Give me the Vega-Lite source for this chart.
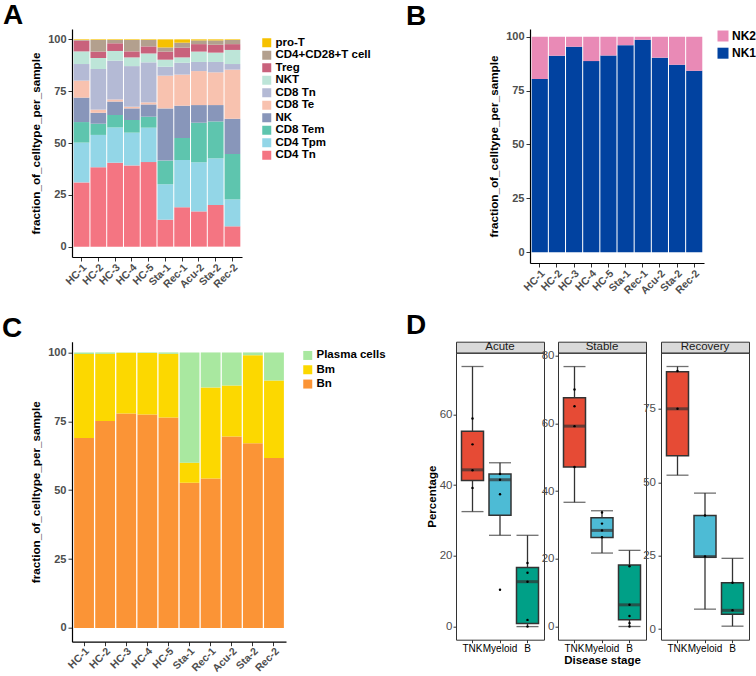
{
  "$schema": "https://vega.github.io/schema/vega-lite/v6.json",
  "background": "white",
  "padding": {"left": 2, "top": 1, "right": 0, "bottom": 0},
  "config": {
    "font": "Liberation Sans",
    "view": {"stroke": null},
    "axis": {"grid": false, "labelFont": "Liberation Sans", "titleFont": "Liberation Sans"},
    "legend": {"labelFont": "Liberation Sans"},
    "title": {"font": "Liberation Sans", "fontSize": 28, "fontWeight": "bold", "color": "black", "anchor": "start", "frame": "group"}
  },
  "datasets": {
    "tcell": [
      {"sample":"HC-1","celltype":"CD4 Tn","pct":31.0},{"sample":"HC-1","celltype":"CD4 Tpm","pct":19.2},{"sample":"HC-1","celltype":"CD8 Tem","pct":9.9},{"sample":"HC-1","celltype":"NK","pct":11.8},{"sample":"HC-1","celltype":"CD8 Te","pct":8.2},{"sample":"HC-1","celltype":"CD8 Tn","pct":8.0},{"sample":"HC-1","celltype":"NKT","pct":6.1},{"sample":"HC-1","celltype":"Treg","pct":5.2},{"sample":"HC-1","celltype":"CD4+CD28+T cell","pct":0.3},{"sample":"HC-1","celltype":"pro-T","pct":0.3},
      {"sample":"HC-2","celltype":"CD4 Tn","pct":38.3},{"sample":"HC-2","celltype":"CD4 Tpm","pct":15.6},{"sample":"HC-2","celltype":"CD8 Tem","pct":5.4},{"sample":"HC-2","celltype":"NK","pct":5.3},{"sample":"HC-2","celltype":"CD8 Te","pct":1.5},{"sample":"HC-2","celltype":"CD8 Tn","pct":19.6},{"sample":"HC-2","celltype":"NKT","pct":5.3},{"sample":"HC-2","celltype":"Treg","pct":3.1},{"sample":"HC-2","celltype":"CD4+CD28+T cell","pct":5.6},{"sample":"HC-2","celltype":"pro-T","pct":0.3},
      {"sample":"HC-3","celltype":"CD4 Tn","pct":40.5},{"sample":"HC-3","celltype":"CD4 Tpm","pct":17.0},{"sample":"HC-3","celltype":"CD8 Tem","pct":6.0},{"sample":"HC-3","celltype":"NK","pct":6.5},{"sample":"HC-3","celltype":"CD8 Te","pct":1.0},{"sample":"HC-3","celltype":"CD8 Tn","pct":18.7},{"sample":"HC-3","celltype":"NKT","pct":4.7},{"sample":"HC-3","celltype":"Treg","pct":3.7},{"sample":"HC-3","celltype":"CD4+CD28+T cell","pct":1.6},{"sample":"HC-3","celltype":"pro-T","pct":0.3},
      {"sample":"HC-4","celltype":"CD4 Tn","pct":39.2},{"sample":"HC-4","celltype":"CD4 Tpm","pct":15.8},{"sample":"HC-4","celltype":"CD8 Tem","pct":6.1},{"sample":"HC-4","celltype":"NK","pct":5.6},{"sample":"HC-4","celltype":"CD8 Te","pct":0.8},{"sample":"HC-4","celltype":"CD8 Tn","pct":19.6},{"sample":"HC-4","celltype":"NKT","pct":4.2},{"sample":"HC-4","celltype":"Treg","pct":2.9},{"sample":"HC-4","celltype":"CD4+CD28+T cell","pct":5.5},{"sample":"HC-4","celltype":"pro-T","pct":0.3},
      {"sample":"HC-5","celltype":"CD4 Tn","pct":40.8},{"sample":"HC-5","celltype":"CD4 Tpm","pct":16.6},{"sample":"HC-5","celltype":"CD8 Tem","pct":5.3},{"sample":"HC-5","celltype":"NK","pct":5.9},{"sample":"HC-5","celltype":"CD8 Te","pct":1.0},{"sample":"HC-5","celltype":"CD8 Tn","pct":19.3},{"sample":"HC-5","celltype":"NKT","pct":4.3},{"sample":"HC-5","celltype":"Treg","pct":3.4},{"sample":"HC-5","celltype":"CD4+CD28+T cell","pct":3.1},{"sample":"HC-5","celltype":"pro-T","pct":0.3},
      {"sample":"Sta-1","celltype":"CD4 Tn","pct":13.0},{"sample":"Sta-1","celltype":"CD4 Tpm","pct":17.1},{"sample":"Sta-1","celltype":"CD8 Tem","pct":11.4},{"sample":"Sta-1","celltype":"NK","pct":25.2},{"sample":"Sta-1","celltype":"CD8 Te","pct":15.8},{"sample":"Sta-1","celltype":"CD8 Tn","pct":4.3},{"sample":"Sta-1","celltype":"NKT","pct":3.4},{"sample":"Sta-1","celltype":"Treg","pct":3.9},{"sample":"Sta-1","celltype":"CD4+CD28+T cell","pct":2.0},{"sample":"Sta-1","celltype":"pro-T","pct":3.9},
      {"sample":"Rec-1","celltype":"CD4 Tn","pct":19.0},{"sample":"Rec-1","celltype":"CD4 Tpm","pct":22.8},{"sample":"Rec-1","celltype":"CD8 Tem","pct":10.6},{"sample":"Rec-1","celltype":"NK","pct":15.6},{"sample":"Rec-1","celltype":"CD8 Te","pct":15.0},{"sample":"Rec-1","celltype":"CD8 Tn","pct":5.7},{"sample":"Rec-1","celltype":"NKT","pct":2.6},{"sample":"Rec-1","celltype":"Treg","pct":4.7},{"sample":"Rec-1","celltype":"CD4+CD28+T cell","pct":2.4},{"sample":"Rec-1","celltype":"pro-T","pct":1.6},
      {"sample":"Acu-2","celltype":"CD4 Tn","pct":17.0},{"sample":"Acu-2","celltype":"CD4 Tpm","pct":23.7},{"sample":"Acu-2","celltype":"CD8 Tem","pct":19.1},{"sample":"Acu-2","celltype":"NK","pct":8.5},{"sample":"Acu-2","celltype":"CD8 Te","pct":16.4},{"sample":"Acu-2","celltype":"CD8 Tn","pct":4.4},{"sample":"Acu-2","celltype":"NKT","pct":5.0},{"sample":"Acu-2","celltype":"Treg","pct":3.6},{"sample":"Acu-2","celltype":"CD4+CD28+T cell","pct":1.8},{"sample":"Acu-2","celltype":"pro-T","pct":0.5},
      {"sample":"Sta-2","celltype":"CD4 Tn","pct":20.1},{"sample":"Sta-2","celltype":"CD4 Tpm","pct":22.5},{"sample":"Sta-2","celltype":"CD8 Tem","pct":17.8},{"sample":"Sta-2","celltype":"NK","pct":7.9},{"sample":"Sta-2","celltype":"CD8 Te","pct":15.8},{"sample":"Sta-2","celltype":"CD8 Tn","pct":5.0},{"sample":"Sta-2","celltype":"NKT","pct":4.5},{"sample":"Sta-2","celltype":"Treg","pct":3.8},{"sample":"Sta-2","celltype":"CD4+CD28+T cell","pct":2.1},{"sample":"Sta-2","celltype":"pro-T","pct":0.5},
      {"sample":"Rec-2","celltype":"CD4 Tn","pct":9.8},{"sample":"Rec-2","celltype":"CD4 Tpm","pct":13.0},{"sample":"Rec-2","celltype":"CD8 Tem","pct":21.9},{"sample":"Rec-2","celltype":"NK","pct":17.0},{"sample":"Rec-2","celltype":"CD8 Te","pct":23.7},{"sample":"Rec-2","celltype":"CD8 Tn","pct":2.7},{"sample":"Rec-2","celltype":"NKT","pct":6.8},{"sample":"Rec-2","celltype":"Treg","pct":2.8},{"sample":"Rec-2","celltype":"CD4+CD28+T cell","pct":2.0},{"sample":"Rec-2","celltype":"pro-T","pct":0.3}
    ],
    "nk": [
      {"sample":"HC-1","subtype":"NK1","pct":80.4},{"sample":"HC-1","subtype":"NK2","pct":19.6},
      {"sample":"HC-2","subtype":"NK1","pct":91.2},{"sample":"HC-2","subtype":"NK2","pct":8.8},
      {"sample":"HC-3","subtype":"NK1","pct":95.4},{"sample":"HC-3","subtype":"NK2","pct":4.6},
      {"sample":"HC-4","subtype":"NK1","pct":88.7},{"sample":"HC-4","subtype":"NK2","pct":11.3},
      {"sample":"HC-5","subtype":"NK1","pct":91.3},{"sample":"HC-5","subtype":"NK2","pct":8.7},
      {"sample":"Sta-1","subtype":"NK1","pct":96.1},{"sample":"Sta-1","subtype":"NK2","pct":3.9},
      {"sample":"Rec-1","subtype":"NK1","pct":98.6},{"sample":"Rec-1","subtype":"NK2","pct":1.4},
      {"sample":"Acu-2","subtype":"NK1","pct":90.3},{"sample":"Acu-2","subtype":"NK2","pct":9.7},
      {"sample":"Sta-2","subtype":"NK1","pct":87.0},{"sample":"Sta-2","subtype":"NK2","pct":13.0},
      {"sample":"Rec-2","subtype":"NK1","pct":84.2},{"sample":"Rec-2","subtype":"NK2","pct":15.8}
    ],
    "bcell": [
      {"sample":"HC-1","subtype":"Bn","pct":68.9},{"sample":"HC-1","subtype":"Bm","pct":30.5},{"sample":"HC-1","subtype":"Plasma cells","pct":0.6},
      {"sample":"HC-2","subtype":"Bn","pct":75.1},{"sample":"HC-2","subtype":"Bm","pct":24.4},{"sample":"HC-2","subtype":"Plasma cells","pct":0.5},
      {"sample":"HC-3","subtype":"Bn","pct":77.8},{"sample":"HC-3","subtype":"Bm","pct":22.1},{"sample":"HC-3","subtype":"Plasma cells","pct":0.1},
      {"sample":"HC-4","subtype":"Bn","pct":77.5},{"sample":"HC-4","subtype":"Bm","pct":22.3},{"sample":"HC-4","subtype":"Plasma cells","pct":0.2},
      {"sample":"HC-5","subtype":"Bn","pct":76.4},{"sample":"HC-5","subtype":"Bm","pct":23.1},{"sample":"HC-5","subtype":"Plasma cells","pct":0.5},
      {"sample":"Sta-1","subtype":"Bn","pct":52.7},{"sample":"Sta-1","subtype":"Bm","pct":7.3},{"sample":"Sta-1","subtype":"Plasma cells","pct":40.0},
      {"sample":"Rec-1","subtype":"Bn","pct":54.2},{"sample":"Rec-1","subtype":"Bm","pct":33.1},{"sample":"Rec-1","subtype":"Plasma cells","pct":12.7},
      {"sample":"Acu-2","subtype":"Bn","pct":69.5},{"sample":"Acu-2","subtype":"Bm","pct":18.5},{"sample":"Acu-2","subtype":"Plasma cells","pct":12.0},
      {"sample":"Sta-2","subtype":"Bn","pct":67.0},{"sample":"Sta-2","subtype":"Bm","pct":32.0},{"sample":"Sta-2","subtype":"Plasma cells","pct":1.0},
      {"sample":"Rec-2","subtype":"Bn","pct":61.7},{"sample":"Rec-2","subtype":"Bm","pct":28.1},{"sample":"Rec-2","subtype":"Plasma cells","pct":10.2}
    ],
    "box": [
      {"stage":"Acute","group":"TNK","lo":32.5,"q1":41.3,"med":44.3,"q3":55.2,"hi":73.5},
      {"stage":"Acute","group":"Myeloid","lo":25.8,"q1":31.5,"med":41.5,"q3":43.1,"hi":46.3},
      {"stage":"Acute","group":"B","lo":0.0,"q1":0.9,"med":12.7,"q3":16.7,"hi":25.8},
      {"stage":"Stable","group":"TNK","lo":36.7,"q1":47.1,"med":59.2,"q3":67.6,"hi":76.8},
      {"stage":"Stable","group":"Myeloid","lo":21.7,"q1":26.3,"med":28.4,"q3":32.1,"hi":34.2},
      {"stage":"Stable","group":"B","lo":0.0,"q1":2.0,"med":6.4,"q3":18.2,"hi":22.5},
      {"stage":"Recovery","group":"TNK","lo":52.4,"q1":59.0,"med":75.0,"q3":87.6,"hi":89.4},
      {"stage":"Recovery","group":"Myeloid","lo":6.8,"q1":24.5,"med":24.7,"q3":38.7,"hi":46.3},
      {"stage":"Recovery","group":"B","lo":1.0,"q1":5.1,"med":6.4,"q3":15.8,"hi":24.1}
    ],
    "pts": [
      {"stage":"Acute","group":"TNK","value":58.8},{"stage":"Acute","group":"TNK","value":51.5},{"stage":"Acute","group":"TNK","value":44.2},{"stage":"Acute","group":"TNK","value":39.2},
      {"stage":"Acute","group":"Myeloid","value":43.1},{"stage":"Acute","group":"Myeloid","value":41.5},{"stage":"Acute","group":"Myeloid","value":37.4},{"stage":"Acute","group":"Myeloid","value":10.4},
      {"stage":"Acute","group":"B","value":18.0},{"stage":"Acute","group":"B","value":15.2},{"stage":"Acute","group":"B","value":12.7},{"stage":"Acute","group":"B","value":1.9},{"stage":"Acute","group":"B","value":0.0},
      {"stage":"Stable","group":"TNK","value":70.0},{"stage":"Stable","group":"TNK","value":65.1},{"stage":"Stable","group":"TNK","value":59.2},{"stage":"Stable","group":"TNK","value":47.1},
      {"stage":"Stable","group":"Myeloid","value":33.7},{"stage":"Stable","group":"Myeloid","value":30.4},{"stage":"Stable","group":"Myeloid","value":28.4},{"stage":"Stable","group":"Myeloid","value":26.4},
      {"stage":"Stable","group":"B","value":17.8},{"stage":"Stable","group":"B","value":6.4},{"stage":"Stable","group":"B","value":3.1},{"stage":"Stable","group":"B","value":1.0},{"stage":"Stable","group":"B","value":0.0},
      {"stage":"Recovery","group":"TNK","value":87.9},{"stage":"Recovery","group":"TNK","value":75.0},
      {"stage":"Recovery","group":"Myeloid","value":38.7},{"stage":"Recovery","group":"Myeloid","value":24.7},
      {"stage":"Recovery","group":"B","value":15.8},{"stage":"Recovery","group":"B","value":6.4}
    ]
  },
  "columns": 2,
  "align": {"row": "each", "column": "none"},
  "spacing": {"row": 14.7, "column": 12},
  "resolve": {"scale": {"color": "independent", "x": "independent", "y": "independent"}, "legend": {"color": "independent"}},
  "concat": [
    {
      "title": {"text": "A", "dx": -69, "offset": -0.7},
      "width": 170, "height": 228,
      "data": {"name": "tcell"},
      "transform": [{"window": [{"op": "row_number", "as": "stack_idx"}], "groupby": ["sample"]}],
      "mark": {"type": "bar"},
      "encoding": {
        "x": {"field": "sample", "type": "nominal", "sort": ["HC-1","HC-2","HC-3","HC-4","HC-5","Sta-1","Rec-1","Acu-2","Sta-2","Rec-2"], "scale": {"paddingInner": 0.06, "paddingOuter": 0.1},
          "axis": {"title": null, "labelAngle": -45, "labelAlign": "right", "labelBaseline": "top", "labelFontSize": 10.5, "labelFontWeight": "bold", "labelColor": "#4D4D4D", "tickColor": "#333333", "tickSize": 4, "domainColor": "black", "domainWidth": 1.2, "labelPadding": 1}},
        "y": {"field": "pct", "type": "quantitative", "stack": "zero", "scale": {"domain": [-5, 105], "nice": false, "zero": false},
          "axis": {"title": "fraction_of_celltype_per_sample", "titleFontSize": 11.7, "titleFontWeight": "bold", "titleColor": "black", "values": [0,25,50,75,100], "labelFontSize": 11, "labelFontWeight": "bold", "labelColor": "#4D4D4D", "tickColor": "#333333", "tickSize": 4, "domainColor": "black", "domainWidth": 1.2, "labelPadding": 2, "titlePadding": 6}},
        "order": {"field": "stack_idx", "type": "quantitative", "sort": "ascending"},
        "color": {"field": "celltype", "type": "nominal",
          "scale": {"domain": ["pro-T","CD4+CD28+T cell","Treg","NKT","CD8 Tn","CD8 Te","NK","CD8 Tem","CD4 Tpm","CD4 Tn"], "range": ["#F6C100","#B3A08E","#C9627C","#BDE5D8","#B4BAD5","#F8C2AF","#8896BA","#5EC5AE","#93D6E7","#F47582"]},
          "legend": {"title": " ", "titleOrient": "right", "titlePadding": 10.5, "titleFontSize": 11.5, "symbolType": "square", "symbolSize": 81, "symbolStrokeWidth": 0, "labelFontSize": 11.5, "labelFontWeight": "bold", "labelColor": "black", "labelOffset": 3, "rowPadding": -0.5, "padding": 8, "offset": 11}}
      }
    },
    {
      "title": {"text": "B", "dx": -124, "offset": -1.9},
      "width": 174, "height": 234,
      "data": {"name": "nk"},
      "transform": [{"window": [{"op": "row_number", "as": "stack_idx"}], "groupby": ["sample"]}],
      "mark": {"type": "bar"},
      "encoding": {
        "x": {"field": "sample", "type": "nominal", "sort": ["HC-1","HC-2","HC-3","HC-4","HC-5","Sta-1","Rec-1","Acu-2","Sta-2","Rec-2"], "scale": {"paddingInner": 0.06, "paddingOuter": 0.1},
          "axis": {"title": null, "labelAngle": -45, "labelAlign": "right", "labelBaseline": "top", "labelFontSize": 10.5, "labelFontWeight": "bold", "labelColor": "#4D4D4D", "tickColor": "#333333", "tickSize": 4, "domainColor": "black", "domainWidth": 1.2, "labelPadding": 1}},
        "y": {"field": "pct", "type": "quantitative", "stack": "zero", "scale": {"domain": [-5, 103.6], "nice": false, "zero": false},
          "axis": {"title": "fraction_of_celltype_per_sample", "titleFontSize": 11.7, "titleFontWeight": "bold", "titleColor": "black", "values": [0,25,50,75,100], "labelFontSize": 11, "labelFontWeight": "bold", "labelColor": "#4D4D4D", "tickColor": "#333333", "tickSize": 4, "domainColor": "black", "domainWidth": 1.2, "labelPadding": 2, "titlePadding": 6}},
        "order": {"field": "stack_idx", "type": "quantitative", "sort": "ascending"},
        "color": {"field": "subtype", "type": "nominal",
          "scale": {"domain": ["NK2","NK1"], "range": ["#E98AB6","#0142A0"]},
          "legend": {"title": null, "symbolType": "square", "symbolSize": 121, "symbolStrokeWidth": 0, "labelFontSize": 12, "labelFontWeight": "bold", "labelColor": "black", "labelOffset": 3, "rowPadding": 5.2, "padding": 1, "offset": 12}}
      }
    },
    {
      "title": {"text": "C", "dx": -70, "offset": -1.5},
      "width": 214, "height": 300,
      "data": {"name": "bcell"},
      "transform": [{"window": [{"op": "row_number", "as": "stack_idx"}], "groupby": ["sample"]}],
      "mark": {"type": "bar"},
      "encoding": {
        "x": {"field": "sample", "type": "nominal", "sort": ["HC-1","HC-2","HC-3","HC-4","HC-5","Sta-1","Rec-1","Acu-2","Sta-2","Rec-2"], "scale": {"paddingInner": 0.06, "paddingOuter": 0.1},
          "axis": {"title": null, "labelAngle": -45, "labelAlign": "right", "labelBaseline": "top", "labelFontSize": 10.5, "labelFontWeight": "bold", "labelColor": "#4D4D4D", "tickColor": "#333333", "tickSize": 4, "domainColor": "black", "domainWidth": 1.2, "labelPadding": 0}},
        "y": {"field": "pct", "type": "quantitative", "stack": "zero", "scale": {"domain": [-5, 103.9], "nice": false, "zero": false},
          "axis": {"title": "fraction_of_celltype_per_sample", "titleFontSize": 11.7, "titleFontWeight": "bold", "titleColor": "black", "values": [0,25,50,75,100], "labelFontSize": 11, "labelFontWeight": "bold", "labelColor": "#4D4D4D", "tickColor": "#333333", "tickSize": 4, "domainColor": "black", "domainWidth": 1.2, "labelPadding": 2, "titlePadding": 6}},
        "order": {"field": "stack_idx", "type": "quantitative", "sort": "ascending"},
        "color": {"field": "subtype", "type": "nominal",
          "scale": {"domain": ["Plasma cells","Bm","Bn"], "range": ["#A9E8A0","#FCD800","#FB9436"]},
          "legend": {"title": null, "symbolType": "square", "symbolSize": 81, "symbolStrokeWidth": 0, "labelFontSize": 11.5, "labelFontWeight": "bold", "labelColor": "black", "labelOffset": 3, "rowPadding": 1.3, "padding": 8, "offset": 8}}
      }
    },
    {
      "title": {"text": "D", "dx": -50, "offset": 0.5},
      "spacing": -5,
      "resolve": {"scale": {"color": "independent", "x": "independent", "y": "independent"}},
      "hconcat": [
        {
          "spacing": 0, "bounds": "flush",
          "vconcat": [
            {"width": 88, "height": 11, "view": {"fill": "#D9D9D9", "stroke": "#333333", "strokeWidth": 1},
             "data": {"values": [{"stage": "Acute"}]},
             "mark": {"type": "text", "fontSize": 11.5, "color": "#1A1A1A", "baseline": "middle"},
             "encoding": {"text": {"field": "stage", "type": "nominal"}}},
            {"width": 88, "height": 287, "view": {"stroke": "#333333", "strokeWidth": 1},
             "layer": [
               {"data": {"name": "box"}, "transform": [{"filter": "datum.stage === 'Acute'"}],
                "mark": {"type": "rule", "color": "#333333", "strokeWidth": 1.3},
                "encoding": {
                  "x": {"field": "group", "type": "nominal", "scale": {"domain": ["TNK","Myeloid","B"], "paddingInner": 0.2, "paddingOuter": 0.2}, "axis": {"title": null, "labelAngle": 0, "labelFontSize": 10, "labelColor": "black", "tickColor": "#333333", "tickSize": 3, "domain": false, "labelPadding": 1}},
                  "y": {"field": "lo", "type": "quantitative", "scale": {"domain": [-3.7, 77.4], "nice": false, "zero": false}, "axis": {"title": "Percentage", "values": [0,20,40,60], "labelFontSize": 11.5, "labelColor": "#4D4D4D", "tickColor": "#333333", "tickSize": 3, "domain": false, "grid": false, "titleFontSize": 11.5, "titleFontWeight": "bold", "titleColor": "black", "titlePadding": 2, "labelPadding": 1}},
                  "y2": {"field": "hi"}}},
               {"data": {"name": "box"}, "transform": [{"filter": "datum.stage === 'Acute'"}],
                "mark": {"type": "tick", "color": "#333333", "thickness": 1.3, "size": 22},
                "encoding": {
                  "x": {"field": "group", "type": "nominal", "scale": {"domain": ["TNK","Myeloid","B"], "paddingInner": 0.2, "paddingOuter": 0.2}, "axis": {"title": null, "labelAngle": 0, "labelFontSize": 10, "labelColor": "black", "tickColor": "#333333", "tickSize": 3, "domain": false, "labelPadding": 1}},
                  "y": {"field": "lo", "type": "quantitative", "scale": {"domain": [-3.7, 77.4], "nice": false, "zero": false}, "axis": {"title": "Percentage", "values": [0,20,40,60], "labelFontSize": 11.5, "labelColor": "#4D4D4D", "tickColor": "#333333", "tickSize": 3, "domain": false, "grid": false, "titleFontSize": 11.5, "titleFontWeight": "bold", "titleColor": "black", "titlePadding": 2, "labelPadding": 1}}}},
               {"data": {"name": "box"}, "transform": [{"filter": "datum.stage === 'Acute'"}],
                "mark": {"type": "tick", "color": "#333333", "thickness": 1.3, "size": 22},
                "encoding": {
                  "x": {"field": "group", "type": "nominal", "scale": {"domain": ["TNK","Myeloid","B"], "paddingInner": 0.2, "paddingOuter": 0.2}, "axis": {"title": null, "labelAngle": 0, "labelFontSize": 10, "labelColor": "black", "tickColor": "#333333", "tickSize": 3, "domain": false, "labelPadding": 1}},
                  "y": {"field": "hi", "type": "quantitative", "scale": {"domain": [-3.7, 77.4], "nice": false, "zero": false}, "axis": {"title": "Percentage", "values": [0,20,40,60], "labelFontSize": 11.5, "labelColor": "#4D4D4D", "tickColor": "#333333", "tickSize": 3, "domain": false, "grid": false, "titleFontSize": 11.5, "titleFontWeight": "bold", "titleColor": "black", "titlePadding": 2, "labelPadding": 1}}}},
               {"data": {"name": "box"}, "transform": [{"filter": "datum.stage === 'Acute'"}],
                "mark": {"type": "bar", "stroke": "#333333", "strokeWidth": 1.5},
                "encoding": {
                  "x": {"field": "group", "type": "nominal", "scale": {"domain": ["TNK","Myeloid","B"], "paddingInner": 0.2, "paddingOuter": 0.2}, "axis": {"title": null, "labelAngle": 0, "labelFontSize": 10, "labelColor": "black", "tickColor": "#333333", "tickSize": 3, "domain": false, "labelPadding": 1}},
                  "y": {"field": "q1", "type": "quantitative", "scale": {"domain": [-3.7, 77.4], "nice": false, "zero": false}, "axis": {"title": "Percentage", "values": [0,20,40,60], "labelFontSize": 11.5, "labelColor": "#4D4D4D", "tickColor": "#333333", "tickSize": 3, "domain": false, "grid": false, "titleFontSize": 11.5, "titleFontWeight": "bold", "titleColor": "black", "titlePadding": 2, "labelPadding": 1}},
                  "y2": {"field": "q3"},
                  "color": {"field": "group", "type": "nominal", "scale": {"domain": ["TNK","Myeloid","B"], "range": ["#E64B35","#4DBBD5","#00A087"]}, "legend": null}}},
               {"data": {"name": "box"}, "transform": [{"filter": "datum.stage === 'Acute'"}],
                "mark": {"type": "tick", "color": "#333333", "thickness": 3, "size": 22},
                "encoding": {
                  "x": {"field": "group", "type": "nominal", "scale": {"domain": ["TNK","Myeloid","B"], "paddingInner": 0.2, "paddingOuter": 0.2}, "axis": {"title": null, "labelAngle": 0, "labelFontSize": 10, "labelColor": "black", "tickColor": "#333333", "tickSize": 3, "domain": false, "labelPadding": 1}},
                  "y": {"field": "med", "type": "quantitative", "scale": {"domain": [-3.7, 77.4], "nice": false, "zero": false}, "axis": {"title": "Percentage", "values": [0,20,40,60], "labelFontSize": 11.5, "labelColor": "#4D4D4D", "tickColor": "#333333", "tickSize": 3, "domain": false, "grid": false, "titleFontSize": 11.5, "titleFontWeight": "bold", "titleColor": "black", "titlePadding": 2, "labelPadding": 1}}}},
               {"data": {"name": "pts"}, "transform": [{"filter": "datum.stage === 'Acute'"}],
                "mark": {"type": "circle", "size": 6, "color": "black", "opacity": 1},
                "encoding": {
                  "x": {"field": "group", "type": "nominal", "scale": {"domain": ["TNK","Myeloid","B"], "paddingInner": 0.2, "paddingOuter": 0.2}, "axis": {"title": null, "labelAngle": 0, "labelFontSize": 10, "labelColor": "black", "tickColor": "#333333", "tickSize": 3, "domain": false, "labelPadding": 1}},
                  "y": {"field": "value", "type": "quantitative", "scale": {"domain": [-3.7, 77.4], "nice": false, "zero": false}, "axis": {"title": "Percentage", "values": [0,20,40,60], "labelFontSize": 11.5, "labelColor": "#4D4D4D", "tickColor": "#333333", "tickSize": 3, "domain": false, "grid": false, "titleFontSize": 11.5, "titleFontWeight": "bold", "titleColor": "black", "titlePadding": 2, "labelPadding": 1}}}}
             ]}
          ]
        },
        {
          "spacing": 0, "bounds": "flush",
          "vconcat": [
            {"width": 88, "height": 11, "view": {"fill": "#D9D9D9", "stroke": "#333333", "strokeWidth": 1},
             "data": {"values": [{"stage": "Stable"}]},
             "mark": {"type": "text", "fontSize": 11.5, "color": "#1A1A1A", "baseline": "middle"},
             "encoding": {"text": {"field": "stage", "type": "nominal"}}},
            {"width": 88, "height": 287, "view": {"stroke": "#333333", "strokeWidth": 1},
             "layer": [
               {"data": {"name": "box"}, "transform": [{"filter": "datum.stage === 'Stable'"}],
                "mark": {"type": "rule", "color": "#333333", "strokeWidth": 1.3},
                "encoding": {
                  "x": {"field": "group", "type": "nominal", "scale": {"domain": ["TNK","Myeloid","B"], "paddingInner": 0.2, "paddingOuter": 0.2}, "axis": {"title": "Disease stage", "titleFontSize": 11.5, "titleFontWeight": "bold", "titleColor": "black", "titlePadding": 1, "labelAngle": 0, "labelFontSize": 10, "labelColor": "black", "tickColor": "#333333", "tickSize": 3, "domain": false, "labelPadding": 1}},
                  "y": {"field": "lo", "type": "quantitative", "scale": {"domain": [-3.9, 80.9], "nice": false, "zero": false}, "axis": {"title": null, "values": [0,20,40,60,80], "labelFontSize": 11.5, "labelColor": "#4D4D4D", "tickColor": "#333333", "tickSize": 3, "domain": false, "grid": false, "labelPadding": 1}},
                  "y2": {"field": "hi"}}},
               {"data": {"name": "box"}, "transform": [{"filter": "datum.stage === 'Stable'"}],
                "mark": {"type": "tick", "color": "#333333", "thickness": 1.3, "size": 22},
                "encoding": {
                  "x": {"field": "group", "type": "nominal", "scale": {"domain": ["TNK","Myeloid","B"], "paddingInner": 0.2, "paddingOuter": 0.2}, "axis": {"title": "Disease stage", "titleFontSize": 11.5, "titleFontWeight": "bold", "titleColor": "black", "titlePadding": 1, "labelAngle": 0, "labelFontSize": 10, "labelColor": "black", "tickColor": "#333333", "tickSize": 3, "domain": false, "labelPadding": 1}},
                  "y": {"field": "lo", "type": "quantitative", "scale": {"domain": [-3.9, 80.9], "nice": false, "zero": false}, "axis": {"title": null, "values": [0,20,40,60,80], "labelFontSize": 11.5, "labelColor": "#4D4D4D", "tickColor": "#333333", "tickSize": 3, "domain": false, "grid": false, "labelPadding": 1}}}},
               {"data": {"name": "box"}, "transform": [{"filter": "datum.stage === 'Stable'"}],
                "mark": {"type": "tick", "color": "#333333", "thickness": 1.3, "size": 22},
                "encoding": {
                  "x": {"field": "group", "type": "nominal", "scale": {"domain": ["TNK","Myeloid","B"], "paddingInner": 0.2, "paddingOuter": 0.2}, "axis": {"title": "Disease stage", "titleFontSize": 11.5, "titleFontWeight": "bold", "titleColor": "black", "titlePadding": 1, "labelAngle": 0, "labelFontSize": 10, "labelColor": "black", "tickColor": "#333333", "tickSize": 3, "domain": false, "labelPadding": 1}},
                  "y": {"field": "hi", "type": "quantitative", "scale": {"domain": [-3.9, 80.9], "nice": false, "zero": false}, "axis": {"title": null, "values": [0,20,40,60,80], "labelFontSize": 11.5, "labelColor": "#4D4D4D", "tickColor": "#333333", "tickSize": 3, "domain": false, "grid": false, "labelPadding": 1}}}},
               {"data": {"name": "box"}, "transform": [{"filter": "datum.stage === 'Stable'"}],
                "mark": {"type": "bar", "stroke": "#333333", "strokeWidth": 1.5},
                "encoding": {
                  "x": {"field": "group", "type": "nominal", "scale": {"domain": ["TNK","Myeloid","B"], "paddingInner": 0.2, "paddingOuter": 0.2}, "axis": {"title": "Disease stage", "titleFontSize": 11.5, "titleFontWeight": "bold", "titleColor": "black", "titlePadding": 1, "labelAngle": 0, "labelFontSize": 10, "labelColor": "black", "tickColor": "#333333", "tickSize": 3, "domain": false, "labelPadding": 1}},
                  "y": {"field": "q1", "type": "quantitative", "scale": {"domain": [-3.9, 80.9], "nice": false, "zero": false}, "axis": {"title": null, "values": [0,20,40,60,80], "labelFontSize": 11.5, "labelColor": "#4D4D4D", "tickColor": "#333333", "tickSize": 3, "domain": false, "grid": false, "labelPadding": 1}},
                  "y2": {"field": "q3"},
                  "color": {"field": "group", "type": "nominal", "scale": {"domain": ["TNK","Myeloid","B"], "range": ["#E64B35","#4DBBD5","#00A087"]}, "legend": null}}},
               {"data": {"name": "box"}, "transform": [{"filter": "datum.stage === 'Stable'"}],
                "mark": {"type": "tick", "color": "#333333", "thickness": 3, "size": 22},
                "encoding": {
                  "x": {"field": "group", "type": "nominal", "scale": {"domain": ["TNK","Myeloid","B"], "paddingInner": 0.2, "paddingOuter": 0.2}, "axis": {"title": "Disease stage", "titleFontSize": 11.5, "titleFontWeight": "bold", "titleColor": "black", "titlePadding": 1, "labelAngle": 0, "labelFontSize": 10, "labelColor": "black", "tickColor": "#333333", "tickSize": 3, "domain": false, "labelPadding": 1}},
                  "y": {"field": "med", "type": "quantitative", "scale": {"domain": [-3.9, 80.9], "nice": false, "zero": false}, "axis": {"title": null, "values": [0,20,40,60,80], "labelFontSize": 11.5, "labelColor": "#4D4D4D", "tickColor": "#333333", "tickSize": 3, "domain": false, "grid": false, "labelPadding": 1}}}},
               {"data": {"name": "pts"}, "transform": [{"filter": "datum.stage === 'Stable'"}],
                "mark": {"type": "circle", "size": 6, "color": "black", "opacity": 1},
                "encoding": {
                  "x": {"field": "group", "type": "nominal", "scale": {"domain": ["TNK","Myeloid","B"], "paddingInner": 0.2, "paddingOuter": 0.2}, "axis": {"title": "Disease stage", "titleFontSize": 11.5, "titleFontWeight": "bold", "titleColor": "black", "titlePadding": 1, "labelAngle": 0, "labelFontSize": 10, "labelColor": "black", "tickColor": "#333333", "tickSize": 3, "domain": false, "labelPadding": 1}},
                  "y": {"field": "value", "type": "quantitative", "scale": {"domain": [-3.9, 80.9], "nice": false, "zero": false}, "axis": {"title": null, "values": [0,20,40,60,80], "labelFontSize": 11.5, "labelColor": "#4D4D4D", "tickColor": "#333333", "tickSize": 3, "domain": false, "grid": false, "labelPadding": 1}}}}
             ]}
          ]
        },
        {
          "spacing": 0, "bounds": "flush",
          "vconcat": [
            {"width": 88, "height": 11, "view": {"fill": "#D9D9D9", "stroke": "#333333", "strokeWidth": 1},
             "data": {"values": [{"stage": "Recovery"}]},
             "mark": {"type": "text", "fontSize": 11.5, "color": "#1A1A1A", "baseline": "middle"},
             "encoding": {"text": {"field": "stage", "type": "nominal"}}},
            {"width": 88, "height": 287, "view": {"stroke": "#333333", "strokeWidth": 1},
             "layer": [
               {"data": {"name": "box"}, "transform": [{"filter": "datum.stage === 'Recovery'"}],
                "mark": {"type": "rule", "color": "#333333", "strokeWidth": 1.3},
                "encoding": {
                  "x": {"field": "group", "type": "nominal", "scale": {"domain": ["TNK","Myeloid","B"], "paddingInner": 0.2, "paddingOuter": 0.2}, "axis": {"title": null, "labelAngle": 0, "labelFontSize": 10, "labelColor": "black", "tickColor": "#333333", "tickSize": 3, "domain": false, "labelPadding": 1}},
                  "y": {"field": "lo", "type": "quantitative", "scale": {"domain": [-3.6, 94.1], "nice": false, "zero": false}, "axis": {"title": null, "values": [0,25,50,75], "labelFontSize": 11.5, "labelColor": "#4D4D4D", "tickColor": "#333333", "tickSize": 3, "domain": false, "grid": false, "labelPadding": 2.5}},
                  "y2": {"field": "hi"}}},
               {"data": {"name": "box"}, "transform": [{"filter": "datum.stage === 'Recovery'"}],
                "mark": {"type": "tick", "color": "#333333", "thickness": 1.3, "size": 22},
                "encoding": {
                  "x": {"field": "group", "type": "nominal", "scale": {"domain": ["TNK","Myeloid","B"], "paddingInner": 0.2, "paddingOuter": 0.2}, "axis": {"title": null, "labelAngle": 0, "labelFontSize": 10, "labelColor": "black", "tickColor": "#333333", "tickSize": 3, "domain": false, "labelPadding": 1}},
                  "y": {"field": "lo", "type": "quantitative", "scale": {"domain": [-3.6, 94.1], "nice": false, "zero": false}, "axis": {"title": null, "values": [0,25,50,75], "labelFontSize": 11.5, "labelColor": "#4D4D4D", "tickColor": "#333333", "tickSize": 3, "domain": false, "grid": false, "labelPadding": 2.5}}}},
               {"data": {"name": "box"}, "transform": [{"filter": "datum.stage === 'Recovery'"}],
                "mark": {"type": "tick", "color": "#333333", "thickness": 1.3, "size": 22},
                "encoding": {
                  "x": {"field": "group", "type": "nominal", "scale": {"domain": ["TNK","Myeloid","B"], "paddingInner": 0.2, "paddingOuter": 0.2}, "axis": {"title": null, "labelAngle": 0, "labelFontSize": 10, "labelColor": "black", "tickColor": "#333333", "tickSize": 3, "domain": false, "labelPadding": 1}},
                  "y": {"field": "hi", "type": "quantitative", "scale": {"domain": [-3.6, 94.1], "nice": false, "zero": false}, "axis": {"title": null, "values": [0,25,50,75], "labelFontSize": 11.5, "labelColor": "#4D4D4D", "tickColor": "#333333", "tickSize": 3, "domain": false, "grid": false, "labelPadding": 2.5}}}},
               {"data": {"name": "box"}, "transform": [{"filter": "datum.stage === 'Recovery'"}],
                "mark": {"type": "bar", "stroke": "#333333", "strokeWidth": 1.5},
                "encoding": {
                  "x": {"field": "group", "type": "nominal", "scale": {"domain": ["TNK","Myeloid","B"], "paddingInner": 0.2, "paddingOuter": 0.2}, "axis": {"title": null, "labelAngle": 0, "labelFontSize": 10, "labelColor": "black", "tickColor": "#333333", "tickSize": 3, "domain": false, "labelPadding": 1}},
                  "y": {"field": "q1", "type": "quantitative", "scale": {"domain": [-3.6, 94.1], "nice": false, "zero": false}, "axis": {"title": null, "values": [0,25,50,75], "labelFontSize": 11.5, "labelColor": "#4D4D4D", "tickColor": "#333333", "tickSize": 3, "domain": false, "grid": false, "labelPadding": 2.5}},
                  "y2": {"field": "q3"},
                  "color": {"field": "group", "type": "nominal", "scale": {"domain": ["TNK","Myeloid","B"], "range": ["#E64B35","#4DBBD5","#00A087"]}, "legend": null}}},
               {"data": {"name": "box"}, "transform": [{"filter": "datum.stage === 'Recovery'"}],
                "mark": {"type": "tick", "color": "#333333", "thickness": 3, "size": 22},
                "encoding": {
                  "x": {"field": "group", "type": "nominal", "scale": {"domain": ["TNK","Myeloid","B"], "paddingInner": 0.2, "paddingOuter": 0.2}, "axis": {"title": null, "labelAngle": 0, "labelFontSize": 10, "labelColor": "black", "tickColor": "#333333", "tickSize": 3, "domain": false, "labelPadding": 1}},
                  "y": {"field": "med", "type": "quantitative", "scale": {"domain": [-3.6, 94.1], "nice": false, "zero": false}, "axis": {"title": null, "values": [0,25,50,75], "labelFontSize": 11.5, "labelColor": "#4D4D4D", "tickColor": "#333333", "tickSize": 3, "domain": false, "grid": false, "labelPadding": 2.5}}}},
               {"data": {"name": "pts"}, "transform": [{"filter": "datum.stage === 'Recovery'"}],
                "mark": {"type": "circle", "size": 6, "color": "black", "opacity": 1},
                "encoding": {
                  "x": {"field": "group", "type": "nominal", "scale": {"domain": ["TNK","Myeloid","B"], "paddingInner": 0.2, "paddingOuter": 0.2}, "axis": {"title": null, "labelAngle": 0, "labelFontSize": 10, "labelColor": "black", "tickColor": "#333333", "tickSize": 3, "domain": false, "labelPadding": 1}},
                  "y": {"field": "value", "type": "quantitative", "scale": {"domain": [-3.6, 94.1], "nice": false, "zero": false}, "axis": {"title": null, "values": [0,25,50,75], "labelFontSize": 11.5, "labelColor": "#4D4D4D", "tickColor": "#333333", "tickSize": 3, "domain": false, "grid": false, "labelPadding": 2.5}}}}
             ]}
          ]
        }
      ]
    }
  ]
}
